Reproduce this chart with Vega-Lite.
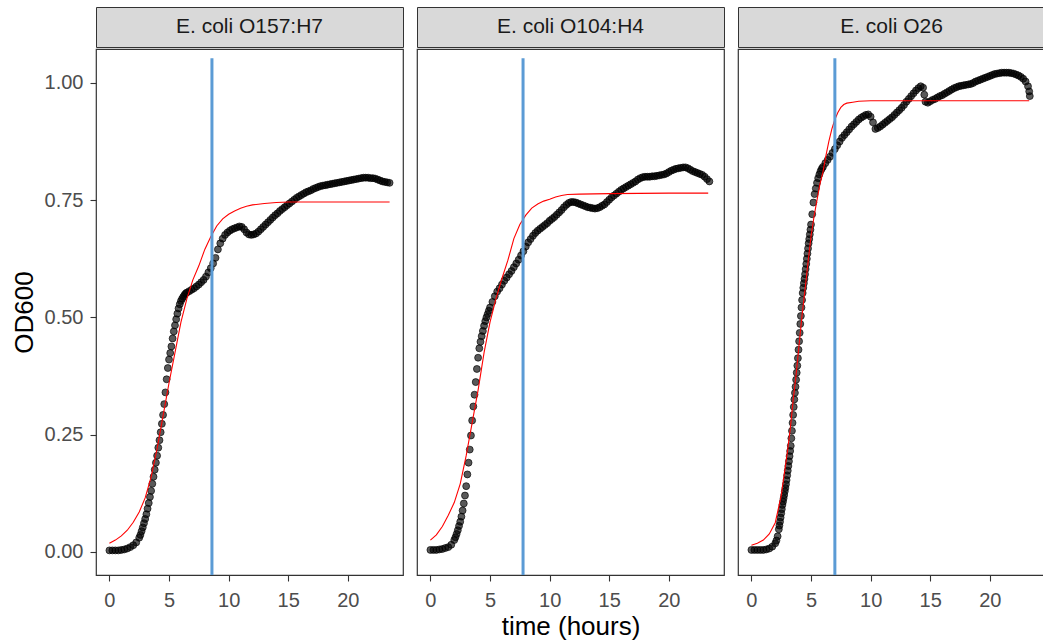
{
"$schema": "https://vega.github.io/schema/vega-lite/v6.json",
"background": "white",
"padding": {"left": 10, "top": 6, "right": 0, "bottom": 0},
"config": {
  "view": {"stroke": "#333333", "strokeWidth": 1.2},
  "axis": {"grid": false, "domain": false, "labelFont": "Liberation Sans", "titleFont": "Liberation Sans", "labelFontSize": 20, "titleFontSize": 26, "titleFontWeight": "normal", "labelColor": "#4d4d4d", "titleColor": "black", "tickColor": "#333333", "tickSize": 6, "tickWidth": 1.1},
  "axisX": {"labelPadding": 9, "titlePadding": 3},
  "axisY": {"labelPadding": 7, "titlePadding": 7}
},
"datasets": {
  "strains": [
    {"strain": "O157:H7", "label": "E. coli O157:H7", "lag": 8.6},
    {"strain": "O104:H4", "label": "E. coli O104:H4", "lag": 7.77},
    {"strain": "O26", "label": "E. coli O26", "lag": 7.0}
  ],
  "o157": [
    {"time":0,"od":0.003},{"time":0.25,"od":0.003},{"time":0.5,"od":0.003},{"time":0.75,"od":0.003},{"time":1,"od":0.004},{"time":1.25,"od":0.005},{"time":1.5,"od":0.007},{"time":1.75,"od":0.01},{"time":2,"od":0.014},{"time":2.25,"od":0.02},{"time":2.5,"od":0.03},
    {"time":2.6,"od":0.036},{"time":2.7,"od":0.044},{"time":2.8,"od":0.052},{"time":2.9,"od":0.061},{"time":3,"od":0.07},{"time":3.1,"od":0.08},{"time":3.2,"od":0.092},{"time":3.3,"od":0.104},{"time":3.4,"od":0.117},{"time":3.5,"od":0.13},{"time":3.6,"od":0.145},{"time":3.7,"od":0.16},{"time":3.8,"od":0.175},{"time":3.9,"od":0.19},{"time":4,"od":0.205},{"time":4.1,"od":0.222},{"time":4.2,"od":0.238},{"time":4.3,"od":0.255},{"time":4.4,"od":0.273},{"time":4.5,"od":0.292},{"time":4.6,"od":0.315},{"time":4.7,"od":0.34},{"time":4.8,"od":0.368},{"time":4.9,"od":0.392},{"time":5,"od":0.41},{"time":5.1,"od":0.424},{"time":5.2,"od":0.438},{"time":5.3,"od":0.455},{"time":5.4,"od":0.47},{"time":5.5,"od":0.483},{"time":5.6,"od":0.496},{"time":5.7,"od":0.508},{"time":5.8,"od":0.519},{"time":5.9,"od":0.528},{"time":6,"od":0.535},{"time":6.1,"od":0.54},{"time":6.2,"od":0.544},{"time":6.3,"od":0.548},{"time":6.4,"od":0.551},{"time":6.5,"od":0.553},
    {"time":6.7,"od":0.556},{"time":6.9,"od":0.559},{"time":7.1,"od":0.562},{"time":7.3,"od":0.566},{"time":7.5,"od":0.57},{"time":7.7,"od":0.575},{"time":7.9,"od":0.58},{"time":8.1,"od":0.587},{"time":8.3,"od":0.596},{"time":8.5,"od":0.605},{"time":8.7,"od":0.615},{"time":8.9,"od":0.627},{"time":9.1,"od":0.645},{"time":9.3,"od":0.658},{"time":9.5,"od":0.668},{"time":9.7,"od":0.676},{"time":9.9,"od":0.681},{"time":10.1,"od":0.685},{"time":10.3,"od":0.688},{"time":10.5,"od":0.69},{"time":10.7,"od":0.692},{"time":10.9,"od":0.694},{"time":11.1,"od":0.693},{"time":11.3,"od":0.688},{"time":11.5,"od":0.681},{"time":11.7,"od":0.677},{"time":11.9,"od":0.676},{"time":12.1,"od":0.677},{"time":12.3,"od":0.679},{"time":12.5,"od":0.683},{"time":12.7,"od":0.688},{"time":12.9,"od":0.693},{"time":13.1,"od":0.698},{"time":13.3,"od":0.703},{"time":13.5,"od":0.708},{"time":13.7,"od":0.713},{"time":13.9,"od":0.718},{"time":14.1,"od":0.722},{"time":14.3,"od":0.727},{"time":14.5,"od":0.731},{"time":14.7,"od":0.735},{"time":14.9,"od":0.739},{"time":15.1,"od":0.743},{"time":15.3,"od":0.747},{"time":15.5,"od":0.751},{"time":15.7,"od":0.755},{"time":15.9,"od":0.758},{"time":16.1,"od":0.761},{"time":16.3,"od":0.764},{"time":16.5,"od":0.767},{"time":16.7,"od":0.769},{"time":16.9,"od":0.771},{"time":17.1,"od":0.774},{"time":17.3,"od":0.776},{"time":17.5,"od":0.778},{"time":17.7,"od":0.78},{"time":17.9,"od":0.781},{"time":18.1,"od":0.782},{"time":18.3,"od":0.783},{"time":18.5,"od":0.784},{"time":18.7,"od":0.785},{"time":18.9,"od":0.786},{"time":19.1,"od":0.787},{"time":19.3,"od":0.788},{"time":19.5,"od":0.789},{"time":19.7,"od":0.79},{"time":19.9,"od":0.791},{"time":20.1,"od":0.792},{"time":20.3,"od":0.793},{"time":20.5,"od":0.794},{"time":20.7,"od":0.795},{"time":20.9,"od":0.796},{"time":21.1,"od":0.797},{"time":21.3,"od":0.798},{"time":21.5,"od":0.798},{"time":21.7,"od":0.798},{"time":21.9,"od":0.797},{"time":22.1,"od":0.797},{"time":22.3,"od":0.796},{"time":22.5,"od":0.794},{"time":22.7,"od":0.792},{"time":22.9,"od":0.79},{"time":23.1,"od":0.789},{"time":23.3,"od":0.788},{"time":23.5,"od":0.787}
  ],
  "o104": [
    {"time":0,"od":0.004},{"time":0.25,"od":0.004},{"time":0.5,"od":0.004},{"time":0.75,"od":0.005},{"time":1,"od":0.006},{"time":1.25,"od":0.008},{"time":1.5,"od":0.01},{"time":1.75,"od":0.015},{"time":2,"od":0.025},
    {"time":2.1,"od":0.031},{"time":2.2,"od":0.038},{"time":2.3,"od":0.046},{"time":2.4,"od":0.055},{"time":2.5,"od":0.064},{"time":2.6,"od":0.075},{"time":2.7,"od":0.088},{"time":2.8,"od":0.103},{"time":2.9,"od":0.12},{"time":3,"od":0.14},{"time":3.1,"od":0.165},{"time":3.2,"od":0.19},{"time":3.3,"od":0.218},{"time":3.4,"od":0.248},{"time":3.5,"od":0.28},{"time":3.6,"od":0.31},{"time":3.7,"od":0.335},{"time":3.8,"od":0.362},{"time":3.9,"od":0.39},{"time":4,"od":0.414},{"time":4.1,"od":0.434},{"time":4.2,"od":0.448},{"time":4.3,"od":0.46},{"time":4.4,"od":0.471},{"time":4.5,"od":0.482},{"time":4.6,"od":0.492},{"time":4.7,"od":0.5},{"time":4.8,"od":0.507},{"time":4.9,"od":0.514},{"time":5,"od":0.521},
    {"time":5.2,"od":0.533},{"time":5.4,"od":0.545},{"time":5.6,"od":0.555},{"time":5.8,"od":0.562},{"time":6,"od":0.57},{"time":6.2,"od":0.578},{"time":6.4,"od":0.585},{"time":6.6,"od":0.592},{"time":6.8,"od":0.599},{"time":7,"od":0.607},{"time":7.2,"od":0.615},{"time":7.4,"od":0.623},{"time":7.6,"od":0.632},{"time":7.8,"od":0.641},{"time":8,"od":0.651},{"time":8.2,"od":0.66},{"time":8.4,"od":0.667},{"time":8.6,"od":0.674},{"time":8.8,"od":0.68},{"time":9,"od":0.685},{"time":9.2,"od":0.689},{"time":9.4,"od":0.693},{"time":9.6,"od":0.697},{"time":9.8,"od":0.701},{"time":10,"od":0.706},{"time":10.2,"od":0.71},{"time":10.4,"od":0.714},{"time":10.6,"od":0.719},{"time":10.8,"od":0.724},{"time":11,"od":0.729},{"time":11.2,"od":0.735},{"time":11.4,"od":0.74},{"time":11.6,"od":0.744},{"time":11.8,"od":0.746},{"time":12,"od":0.746},{"time":12.2,"od":0.745},{"time":12.4,"od":0.743},{"time":12.6,"od":0.741},{"time":12.8,"od":0.739},{"time":13,"od":0.737},{"time":13.2,"od":0.735},{"time":13.4,"od":0.734},{"time":13.6,"od":0.733},{"time":13.8,"od":0.732},{"time":14,"od":0.733},{"time":14.2,"od":0.735},{"time":14.4,"od":0.738},{"time":14.6,"od":0.741},{"time":14.8,"od":0.746},{"time":15,"od":0.751},{"time":15.2,"od":0.756},{"time":15.4,"od":0.76},{"time":15.6,"od":0.764},{"time":15.8,"od":0.768},{"time":16,"od":0.772},{"time":16.2,"od":0.775},{"time":16.4,"od":0.778},{"time":16.6,"od":0.781},{"time":16.8,"od":0.784},{"time":17,"od":0.787},{"time":17.2,"od":0.79},{"time":17.4,"od":0.794},{"time":17.6,"od":0.797},{"time":17.8,"od":0.799},{"time":18,"od":0.8},{"time":18.2,"od":0.8},{"time":18.4,"od":0.8},{"time":18.6,"od":0.801},{"time":18.8,"od":0.801},{"time":19,"od":0.802},{"time":19.2,"od":0.803},{"time":19.4,"od":0.804},{"time":19.6,"od":0.805},{"time":19.8,"od":0.807},{"time":20,"od":0.81},{"time":20.2,"od":0.813},{"time":20.4,"od":0.815},{"time":20.6,"od":0.817},{"time":20.8,"od":0.818},{"time":21,"od":0.819},{"time":21.2,"od":0.82},{"time":21.4,"od":0.82},{"time":21.6,"od":0.818},{"time":21.8,"od":0.815},{"time":22,"od":0.812},{"time":22.2,"od":0.81},{"time":22.4,"od":0.808},{"time":22.6,"od":0.806},{"time":22.8,"od":0.804},{"time":23,"od":0.8},{"time":23.2,"od":0.795},{"time":23.4,"od":0.79}
  ],
  "o26": [
    {"time":0,"od":0.004},{"time":0.25,"od":0.004},{"time":0.5,"od":0.004},{"time":0.75,"od":0.004},{"time":1,"od":0.004},{"time":1.25,"od":0.005},{"time":1.5,"od":0.007},{"time":1.75,"od":0.011},{"time":2,"od":0.018},{"time":2.1,"od":0.024},{"time":2.2,"od":0.033},
    {"time":2.3,"od":0.048},{"time":2.35,"od":0.056},{"time":2.4,"od":0.064},{"time":2.45,"od":0.073},{"time":2.5,"od":0.082},{"time":2.55,"od":0.091},{"time":2.6,"od":0.1},{"time":2.65,"od":0.107},{"time":2.7,"od":0.114},{"time":2.75,"od":0.121},{"time":2.8,"od":0.129},{"time":2.85,"od":0.136},{"time":2.9,"od":0.144},{"time":2.95,"od":0.153},{"time":3,"od":0.163},{"time":3.05,"od":0.173},{"time":3.1,"od":0.183},{"time":3.15,"od":0.193},{"time":3.2,"od":0.204},{"time":3.25,"od":0.215},{"time":3.3,"od":0.226},{"time":3.35,"od":0.242},{"time":3.4,"od":0.258},{"time":3.45,"od":0.275},{"time":3.5,"od":0.292},{"time":3.55,"od":0.309},{"time":3.6,"od":0.325},{"time":3.65,"od":0.339},{"time":3.7,"od":0.352},{"time":3.75,"od":0.367},{"time":3.8,"od":0.382},{"time":3.85,"od":0.397},{"time":3.9,"od":0.413},{"time":3.95,"od":0.431},{"time":4,"od":0.449},{"time":4.05,"od":0.467},{"time":4.1,"od":0.486},{"time":4.15,"od":0.503},{"time":4.2,"od":0.521},{"time":4.25,"od":0.537},{"time":4.3,"od":0.552},{"time":4.35,"od":0.563},{"time":4.4,"od":0.573},{"time":4.45,"od":0.582},{"time":4.5,"od":0.592},{"time":4.55,"od":0.603},{"time":4.6,"od":0.614},{"time":4.65,"od":0.625},{"time":4.7,"od":0.636},{"time":4.75,"od":0.647},{"time":4.8,"od":0.658},{"time":4.85,"od":0.667},{"time":4.9,"od":0.677},{"time":4.95,"od":0.687},{"time":5,"od":0.698},
    {"time":5.1,"od":0.72},{"time":5.2,"od":0.745},{"time":5.3,"od":0.763},{"time":5.4,"od":0.775},{"time":5.5,"od":0.787},{"time":5.6,"od":0.797},{"time":5.7,"od":0.805},{"time":5.8,"od":0.812},{"time":5.9,"od":0.817},{"time":6,"od":0.821},{"time":6.2,"od":0.829},{"time":6.4,"od":0.836},{"time":6.6,"od":0.843},{"time":6.8,"od":0.851},{"time":7,"od":0.859},{"time":7.2,"od":0.867},{"time":7.4,"od":0.875},{"time":7.6,"od":0.883},{"time":7.8,"od":0.889},{"time":8,"od":0.895},{"time":8.2,"od":0.901},{"time":8.4,"od":0.907},{"time":8.6,"od":0.912},{"time":8.8,"od":0.917},{"time":9,"od":0.922},{"time":9.2,"od":0.926},{"time":9.4,"od":0.929},{"time":9.6,"od":0.932},{"time":9.8,"od":0.933},{"time":10,"od":0.928},{"time":10.2,"od":0.916},{"time":10.4,"od":0.902},{"time":10.6,"od":0.904},{"time":10.8,"od":0.907},{"time":11,"od":0.911},{"time":11.2,"od":0.915},{"time":11.4,"od":0.919},{"time":11.6,"od":0.923},{"time":11.8,"od":0.927},{"time":12,"od":0.932},{"time":12.2,"od":0.937},{"time":12.4,"od":0.942},{"time":12.6,"od":0.947},{"time":12.8,"od":0.953},{"time":13,"od":0.96},{"time":13.2,"od":0.966},{"time":13.4,"od":0.972},{"time":13.6,"od":0.978},{"time":13.8,"od":0.984},{"time":14,"od":0.989},{"time":14.2,"od":0.993},{"time":14.4,"od":0.99},{"time":14.5,"od":0.975},{"time":14.6,"od":0.96},{"time":14.8,"od":0.958},{"time":15,"od":0.961},{"time":15.2,"od":0.964},{"time":15.4,"od":0.966},{"time":15.6,"od":0.969},{"time":15.8,"od":0.972},{"time":16,"od":0.974},{"time":16.2,"od":0.977},{"time":16.4,"od":0.98},{"time":16.6,"od":0.983},{"time":16.8,"od":0.986},{"time":17,"od":0.989},{"time":17.2,"od":0.991},{"time":17.4,"od":0.993},{"time":17.6,"od":0.994},{"time":17.8,"od":0.995},{"time":18,"od":0.996},{"time":18.2,"od":0.997},{"time":18.4,"od":0.998},{"time":18.6,"od":1.0},{"time":18.8,"od":1.003},{"time":19,"od":1.005},{"time":19.2,"od":1.007},{"time":19.4,"od":1.009},{"time":19.6,"od":1.011},{"time":19.8,"od":1.013},{"time":20,"od":1.015},{"time":20.2,"od":1.017},{"time":20.4,"od":1.019},{"time":20.6,"od":1.02},{"time":20.8,"od":1.021},{"time":21,"od":1.022},{"time":21.2,"od":1.022},{"time":21.4,"od":1.022},{"time":21.6,"od":1.022},{"time":21.8,"od":1.021},{"time":22,"od":1.02},{"time":22.2,"od":1.018},{"time":22.4,"od":1.016},{"time":22.6,"od":1.013},{"time":22.8,"od":1.009},{"time":23,"od":1.003},{"time":23.2,"od":0.993},{"time":23.3,"od":0.982},{"time":23.35,"od":0.972}
  ],
  "fit157": [
    {"time":0,"fit":0.018},{"time":0.5,"fit":0.025},{"time":1,"fit":0.034},{"time":1.5,"fit":0.046},{"time":2,"fit":0.063},{"time":2.5,"fit":0.085},{"time":3,"fit":0.115},{"time":3.5,"fit":0.16},{"time":4,"fit":0.22},{"time":4.5,"fit":0.29},{"time":5,"fit":0.36},{"time":5.5,"fit":0.425},{"time":6,"fit":0.49},{"time":6.5,"fit":0.54},{"time":7,"fit":0.58},{"time":7.5,"fit":0.61},{"time":8,"fit":0.645},{"time":8.5,"fit":0.672},{"time":9,"fit":0.695},{"time":9.5,"fit":0.71},{"time":10,"fit":0.72},{"time":10.5,"fit":0.727},{"time":11,"fit":0.733},{"time":11.5,"fit":0.737},{"time":12,"fit":0.74},{"time":13,"fit":0.743},{"time":14,"fit":0.745},{"time":15,"fit":0.746},{"time":17,"fit":0.746},{"time":20,"fit":0.746},{"time":23.5,"fit":0.746}
  ],
  "fit104": [
    {"time":0,"fit":0.025},{"time":0.5,"fit":0.036},{"time":1,"fit":0.054},{"time":1.5,"fit":0.078},{"time":2,"fit":0.105},{"time":2.5,"fit":0.145},{"time":3,"fit":0.205},{"time":3.5,"fit":0.275},{"time":4,"fit":0.345},{"time":4.5,"fit":0.425},{"time":5,"fit":0.49},{"time":5.5,"fit":0.54},{"time":6,"fit":0.583},{"time":6.5,"fit":0.622},{"time":7,"fit":0.668},{"time":7.5,"fit":0.698},{"time":8,"fit":0.718},{"time":8.5,"fit":0.733},{"time":9,"fit":0.742},{"time":9.5,"fit":0.748},{"time":10,"fit":0.752},{"time":10.5,"fit":0.757},{"time":11,"fit":0.76},{"time":11.5,"fit":0.762},{"time":12.5,"fit":0.763},{"time":15,"fit":0.764},{"time":20,"fit":0.765},{"time":23.3,"fit":0.765}
  ],
  "fit26": [
    {"time":0,"fit":0.014},{"time":0.5,"fit":0.018},{"time":1,"fit":0.025},{"time":1.5,"fit":0.038},{"time":2,"fit":0.062},{"time":2.5,"fit":0.12},{"time":3,"fit":0.21},{"time":3.25,"fit":0.26},{"time":3.5,"fit":0.323},{"time":3.75,"fit":0.378},{"time":4,"fit":0.442},{"time":4.25,"fit":0.505},{"time":4.5,"fit":0.56},{"time":4.75,"fit":0.618},{"time":5,"fit":0.673},{"time":5.25,"fit":0.715},{"time":5.5,"fit":0.75},{"time":5.75,"fit":0.785},{"time":6,"fit":0.81},{"time":6.25,"fit":0.845},{"time":6.5,"fit":0.876},{"time":6.75,"fit":0.902},{"time":7,"fit":0.922},{"time":7.25,"fit":0.937},{"time":7.5,"fit":0.948},{"time":7.75,"fit":0.954},{"time":8,"fit":0.957},{"time":8.5,"fit":0.959},{"time":9,"fit":0.961},{"time":10,"fit":0.962},{"time":15,"fit":0.962},{"time":23.3,"fit":0.962}
  ]
},
"spacing": 12,
"hconcat": [
  {"spacing": 0, "vconcat": [
    {"width": 307, "height": 40, "view": {"fill": "#d9d9d9", "stroke": "#333333"},
     "data": {"name": "strains"}, "transform": [{"filter": "datum.strain === 'O157:H7'"}],
     "mark": {"type": "text", "font": "Liberation Sans", "fontSize": 21, "color": "#1a1a1a"},
     "encoding": {"text": {"field": "label"}}},
    {"width": 307, "height": 526, "layer": [
      {"data": {"name": "o157"}, "mark": {"type": "circle", "size": 48, "color": "black", "fillOpacity": 0.65, "stroke": "black", "strokeWidth": 1, "strokeOpacity": 0.65},
       "encoding": {
         "x": {"field": "time", "type": "quantitative", "scale": {"domain": [-1.125, 24.625], "nice": false, "zero": false}, "axis": {"values": [0,5,10,15,20], "title": null}},
         "y": {"field": "od", "type": "quantitative", "scale": {"domain": [-0.0495, 1.0725], "nice": false, "zero": false}, "axis": {"values": [0,0.25,0.5,0.75,1], "format": ".2f", "title": "OD600"}}}},
      {"data": {"name": "fit157"}, "mark": {"type": "line", "color": "#ff0000", "strokeWidth": 1.1},
       "encoding": {"x": {"field": "time", "type": "quantitative"}, "y": {"field": "fit", "type": "quantitative"}}},
      {"data": {"name": "strains"}, "transform": [{"filter": "datum.strain === 'O157:H7'"}],
       "mark": {"type": "rule", "color": "#5b9bd5", "strokeWidth": 3},
       "encoding": {"x": {"field": "lag", "type": "quantitative"}, "y": {"datum": -0.0495}, "y2": {"datum": 1.053}}}
    ]}
  ]},
  {"spacing": 0, "vconcat": [
    {"width": 307, "height": 40, "view": {"fill": "#d9d9d9", "stroke": "#333333"},
     "data": {"name": "strains"}, "transform": [{"filter": "datum.strain === 'O104:H4'"}],
     "mark": {"type": "text", "font": "Liberation Sans", "fontSize": 21, "color": "#1a1a1a"},
     "encoding": {"text": {"field": "label"}}},
    {"width": 307, "height": 526, "layer": [
      {"data": {"name": "o104"}, "mark": {"type": "circle", "size": 48, "color": "black", "fillOpacity": 0.65, "stroke": "black", "strokeWidth": 1, "strokeOpacity": 0.65},
       "encoding": {
         "x": {"field": "time", "type": "quantitative", "scale": {"domain": [-1.125, 24.625], "nice": false, "zero": false}, "axis": {"values": [0,5,10,15,20], "title": "time (hours)"}},
         "y": {"field": "od", "type": "quantitative", "scale": {"domain": [-0.0495, 1.0725], "nice": false, "zero": false}, "axis": null}}},
      {"data": {"name": "fit104"}, "mark": {"type": "line", "color": "#ff0000", "strokeWidth": 1.1},
       "encoding": {"x": {"field": "time", "type": "quantitative"}, "y": {"field": "fit", "type": "quantitative"}}},
      {"data": {"name": "strains"}, "transform": [{"filter": "datum.strain === 'O104:H4'"}],
       "mark": {"type": "rule", "color": "#5b9bd5", "strokeWidth": 3},
       "encoding": {"x": {"field": "lag", "type": "quantitative"}, "y": {"datum": -0.0495}, "y2": {"datum": 1.053}}}
    ]}
  ]},
  {"spacing": 0, "vconcat": [
    {"width": 307, "height": 40, "view": {"fill": "#d9d9d9", "stroke": "#333333"},
     "data": {"name": "strains"}, "transform": [{"filter": "datum.strain === 'O26'"}],
     "mark": {"type": "text", "font": "Liberation Sans", "fontSize": 21, "color": "#1a1a1a"},
     "encoding": {"text": {"field": "label"}}},
    {"width": 307, "height": 526, "layer": [
      {"data": {"name": "o26"}, "mark": {"type": "circle", "size": 48, "color": "black", "fillOpacity": 0.65, "stroke": "black", "strokeWidth": 1, "strokeOpacity": 0.65},
       "encoding": {
         "x": {"field": "time", "type": "quantitative", "scale": {"domain": [-1.125, 24.625], "nice": false, "zero": false}, "axis": {"values": [0,5,10,15,20], "title": null}},
         "y": {"field": "od", "type": "quantitative", "scale": {"domain": [-0.0495, 1.0725], "nice": false, "zero": false}, "axis": null}}},
      {"data": {"name": "fit26"}, "mark": {"type": "line", "color": "#ff0000", "strokeWidth": 1.1},
       "encoding": {"x": {"field": "time", "type": "quantitative"}, "y": {"field": "fit", "type": "quantitative"}}},
      {"data": {"name": "strains"}, "transform": [{"filter": "datum.strain === 'O26'"}],
       "mark": {"type": "rule", "color": "#5b9bd5", "strokeWidth": 3},
       "encoding": {"x": {"field": "lag", "type": "quantitative"}, "y": {"datum": -0.0495}, "y2": {"datum": 1.053}}}
    ]}
  ]}
]
}
